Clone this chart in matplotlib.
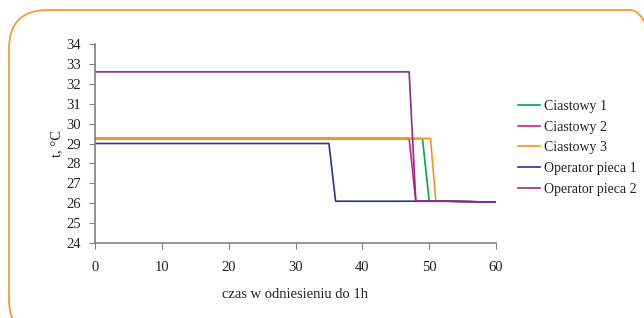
import matplotlib
matplotlib.use("Agg")
import matplotlib.pyplot as plt
from matplotlib.patches import FancyBboxPatch

plt.rcParams['font.family'] = ['Liberation Serif', 'DejaVu Serif']

series_names = ["Ciastowy 1", "Ciastowy 2", "Ciastowy 3", "Operator pieca 1", "Operator pieca 2"]
ciastowy1_t = [0, 49, 50, 53, 60]
ciastowy1_v = [29.25, 29.25, 26.1, 26.1, 26.05]
ciastowy2_t = [0, 47, 48, 53, 60]
ciastowy2_v = [29.25, 29.25, 26.1, 26.1, 26.05]
ciastowy3_t = [0, 50.2, 51, 55]
ciastowy3_v = [29.25, 29.25, 26.1, 26.1]
operator1_t = [0, 35, 36, 53, 60]
operator1_v = [29.0, 29.0, 26.1, 26.1, 26.05]
operator2_t = [0, 47, 48, 53, 60]
operator2_v = [32.6, 32.6, 26.1, 26.1, 26.05]
colors = ["#00a651", "#c0268f", "#f7941d", "#2e3192", "#92278f"]
x_ticks = [0, 10, 20, 30, 40, 50, 60]
y_ticks = [24, 25, 26, 27, 28, 29, 30, 31, 32, 33, 34]

fig = plt.figure(figsize=(6.44, 3.18), dpi=100)
border = FancyBboxPatch((9/644, -20/318), 660/644, (318-10+20)/318,
                        boxstyle="round,pad=0,rounding_size=0.06",
                        transform=fig.transFigure, fill=False,
                        edgecolor="#f39c33", linewidth=1.3, mutation_aspect=644/318)
fig.patches.append(border)

ax = fig.add_axes([95/644, 1-243/318, (496-95)/644, (243-44)/318])
data = [(ciastowy1_t, ciastowy1_v), (ciastowy2_t, ciastowy2_v), (ciastowy3_t, ciastowy3_v),
        (operator1_t, operator1_v), (operator2_t, operator2_v)]
for (t, v), c, n in zip(data, colors, series_names):
    ax.plot(t, v, color=c, linewidth=1.2, label=n)

ax.set_xlim(0, 60)
ax.set_ylim(24, 34)
ax.set_xticks(x_ticks)
ax.set_yticks(y_ticks)
for s in ["top", "right"]:
    ax.spines[s].set_visible(False)
for s in ["left", "bottom"]:
    ax.spines[s].set_color("#808080")
    ax.spines[s].set_linewidth(1.2)
ax.tick_params(direction="out", length=4, color="#808080", labelsize=10.5, labelcolor="#222222")
ax.tick_params(axis="x", pad=9)
ax.tick_params(axis="y", pad=6)
ax.set_xlabel("czas w odniesieniu do 1h", fontsize=10.5, color="#222222", labelpad=10)
ax.set_ylabel("t, °C", fontsize=10.5, color="#222222", labelpad=2)

leg = ax.legend(loc="upper left", bbox_to_anchor=(518/644, 1-100/318), bbox_transform=fig.transFigure,
                frameon=False, fontsize=10, handlelength=1.6, handletextpad=0.25,
                labelspacing=0.55, borderaxespad=0, borderpad=0)
for txt in leg.get_texts():
    txt.set_color("#222222")

fig.savefig("out.png", dpi=100)
